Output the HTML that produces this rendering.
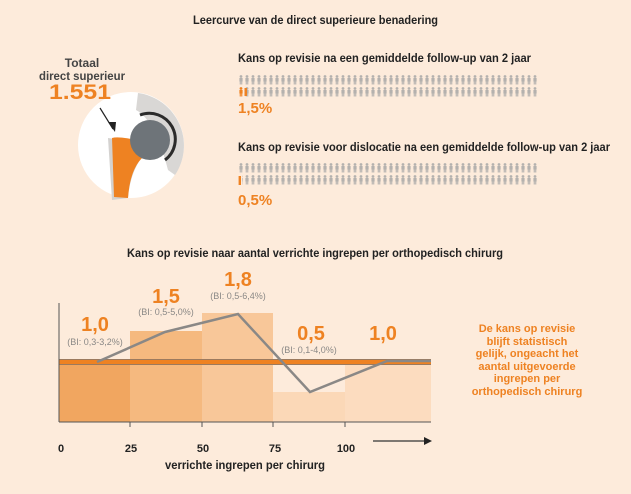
<!DOCTYPE html>
<html><head><meta charset="utf-8"><style>
html,body{margin:0;padding:0;background:#fdebdb;}
svg{display:block;font-family:"Liberation Sans",sans-serif;}
</style></head><body>
<svg width="631" height="494" viewBox="0 0 631 494">
<defs>
<g id="fig">
<circle cx="3" cy="1.5" r="1.4"/>
<rect x="1.4" y="3" width="3.2" height="3.5"/>
<rect x="1.7" y="6" width="1.1" height="3.5"/>
<rect x="3.2" y="6" width="1.1" height="3.5"/>
</g>
<pattern id="p1" x="238" y="75" width="6" height="12" patternUnits="userSpaceOnUse">
<use href="#fig" fill="#b4b1ae"/>
</pattern>
<pattern id="p2" x="238" y="163" width="6" height="12" patternUnits="userSpaceOnUse">
<use href="#fig" fill="#b4b1ae"/>
</pattern>
</defs>
<rect width="631" height="494" fill="#fdebdb"/>
<text x="193" y="24" font-size="12" font-weight="bold" fill="#222" textLength="245" lengthAdjust="spacingAndGlyphs">Leercurve van de direct superieure benadering</text>

<!-- shoulder icon -->
<circle cx="131" cy="145" r="53" fill="#fff"/>
<path d="M138 93 A53 53 0 0 1 175 175 L168 170 Q155 120 136 110 Z" fill="#d9d7d5"/>
<path d="M108 138 L112 200 L128 198 Q130 175 140 160 L136 142 Z" fill="#d4d2d0"/>
<path d="M112 138 Q118 136 136 140 L142 158 Q130 170 128 198 L114 197 Z" fill="#ee8222"/>
<circle cx="150" cy="140" r="20" fill="#6e7479"/>
<path d="M140 115 A26 26 0 0 1 165 160" fill="none" stroke="#2b2b2b" stroke-width="3"/>
<line x1="100" y1="108" x2="113" y2="129" stroke="#222" stroke-width="1.2"/>
<path d="M108 122 L115 132 L116 122 Z" fill="#222"/>
<text x="82" y="67" font-size="12" font-weight="bold" fill="#444" text-anchor="middle">Totaal</text>
<text x="82" y="80" font-size="12" font-weight="bold" fill="#444" text-anchor="middle" textLength="86" lengthAdjust="spacingAndGlyphs">direct superieur</text>
<text x="80" y="99" font-size="21" font-weight="bold" fill="#ee8222" text-anchor="middle" textLength="62" lengthAdjust="spacingAndGlyphs">1.551</text>

<!-- pictograms -->
<text x="238" y="62" font-size="12" font-weight="bold" fill="#222" textLength="293" lengthAdjust="spacingAndGlyphs">Kans op revisie na een gemiddelde follow-up van 2 jaar</text>
<rect x="238" y="75" width="300" height="22" fill="url(#p1)"/>
<rect x="238" y="86" width="12" height="11" fill="#fdebdb"/>
<use href="#fig" x="238" y="87" fill="#ee8222"/>
<rect x="244" y="87" width="3" height="10" fill="#fdebdb"/>
<use href="#fig" x="244" y="87" fill="#b4b1ae"/>
<rect x="244.5" y="88" width="2.5" height="8" fill="#ee8222"/>
<text x="238" y="113" font-size="15" font-weight="bold" fill="#ee8222">1,5%</text>

<text x="238" y="151" font-size="12" font-weight="bold" fill="#222" textLength="372" lengthAdjust="spacingAndGlyphs">Kans op revisie voor dislocatie na een gemiddelde follow-up van 2 jaar</text>
<rect x="238" y="163" width="300" height="22" fill="url(#p2)"/>
<rect x="238" y="174" width="4" height="11" fill="#fdebdb"/>
<rect x="238.6" y="176" width="2.4" height="9" fill="#ee8222"/>
<text x="238" y="205" font-size="15" font-weight="bold" fill="#ee8222">0,5%</text>

<!-- chart -->
<text x="127" y="257" font-size="12" font-weight="bold" fill="#222" textLength="376" lengthAdjust="spacingAndGlyphs">Kans op revisie naar aantal verrichte ingrepen per orthopedisch chirurg</text>
<rect x="59" y="360" width="71" height="62" fill="#f1a660"/>
<rect x="130" y="331" width="72" height="91" fill="#f5b97f"/>
<rect x="202" y="313" width="71" height="109" fill="#f8c799"/>
<rect x="273" y="392" width="72" height="30" fill="#fbd8b7"/>
<rect x="345" y="365" width="86" height="57" fill="#fcdcbf"/>
<rect x="59" y="359" width="372" height="6" fill="#9c7a5e"/>
<rect x="59" y="360" width="372" height="4" fill="#ee8222"/>
<polyline points="97,362 165,332 238,314 310,392 387,361 431,361" fill="none" stroke="#8a8886" stroke-width="2.5"/>
<line x1="59" y1="303" x2="59" y2="422" stroke="#555" stroke-width="1"/>
<line x1="59" y1="422" x2="431" y2="422" stroke="#555" stroke-width="1"/>
<g stroke="#555"><line x1="130" y1="422" x2="130" y2="427"/><line x1="202" y1="422" x2="202" y2="427"/><line x1="273" y1="422" x2="273" y2="427"/><line x1="345" y1="422" x2="345" y2="427"/></g>
<line x1="373" y1="441" x2="425" y2="441" stroke="#333" stroke-width="1.2"/>
<path d="M424 437 L432 441 L424 445 Z" fill="#222"/>
<g font-size="11" font-weight="bold" fill="#222" text-anchor="middle">
<text x="61" y="452">0</text><text x="131" y="452">25</text><text x="203" y="452">50</text><text x="275" y="452">75</text><text x="346" y="452">100</text>
</g>
<text x="165" y="469" font-size="12" font-weight="bold" fill="#222" textLength="160" lengthAdjust="spacingAndGlyphs">verrichte ingrepen per chirurg</text>

<g font-size="20" font-weight="bold" fill="#ee8222" text-anchor="middle">
<text x="95" y="331">1,0</text><text x="166" y="303">1,5</text><text x="238" y="286">1,8</text><text x="311" y="340">0,5</text><text x="383" y="340">1,0</text>
</g>
<g font-size="9" fill="#8a8886" text-anchor="middle">
<text x="95" y="345">(BI: 0,3-3,2%)</text><text x="166" y="315">(BI: 0,5-5,0%)</text><text x="238" y="299">(BI: 0,5-6,4%)</text><text x="309" y="353">(BI: 0,1-4,0%)</text>
</g>
<g font-size="11" font-weight="bold" fill="#ee8222" text-anchor="middle">
<text x="527" y="332">De kans op revisie</text>
<text x="527" y="345">blijft statistisch</text>
<text x="527" y="357">gelijk, ongeacht het</text>
<text x="527" y="370">aantal uitgevoerde</text>
<text x="527" y="382">ingrepen per</text>
<text x="527" y="395">orthopedisch chirurg</text>
</g>
</svg>
</body></html>
